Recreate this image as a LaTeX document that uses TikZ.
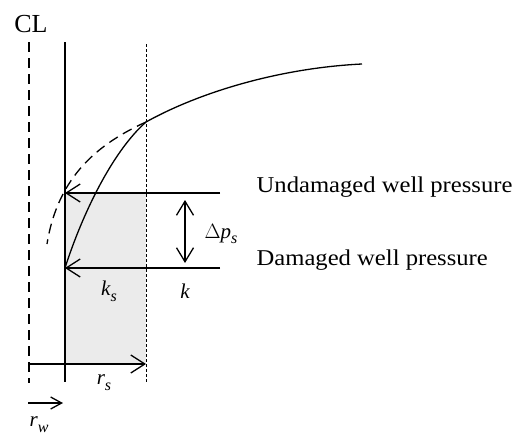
\documentclass[tikz,border=0pt]{standalone}
\usepackage{fontspec}
\setmainfont{Liberation Serif}
\newfontfamily\lblfont[FakeStretch=1.09]{Liberation Serif}
\usetikzlibrary{arrows.meta}
\newcommand\mvar[2]{{\itshape #1}\raisebox{-0.28em}{\fontsize{16}{16}\selectfont\itshape #2}}
\begin{document}
\begin{tikzpicture}[x=1pt,y=-1pt,line width=1.3pt,
  barb/.style={-{Straight Barb[length=14pt,width=18pt,line width=1.3pt]}},
  dbarb/.style={{Straight Barb[length=14pt,width=17pt,line width=1.3pt]}-{Straight Barb[length=14pt,width=17pt,line width=1.3pt]}},
  smallbarb/.style={-{Straight Barb[length=11pt,width=12pt,line width=1.3pt]}},
  cldash/.style={dash pattern=on 10pt off 6pt},
  rsdot/.style={line width=1pt,dash pattern=on 3pt off 2pt},
  txt/.style={inner sep=0pt,font=\lblfont\fontsize{22.6}{24}\selectfont},
  mlab/.style={inner sep=0pt,font=\fontsize{21}{22}\selectfont}]
\useasboundingbox (0,0) rectangle (517,439);
\fill[white] (0,0) rectangle (517,439);
% coordinates
\coordinate (clT) at (29,42);
\coordinate (clB) at (29,383);
\coordinate (wT) at (65,42);
\coordinate (wB) at (65,382);
\coordinate (rsT) at (146,44);
\coordinate (rsB) at (146,382);
\coordinate (uTip) at (65,193);
\coordinate (uEnd) at (220,193);
\coordinate (dTip) at (65,268);
\coordinate (dEnd) at (220,268);
\coordinate (meet) at (146,122);
\coordinate (farEnd) at (362,64);
\coordinate (dashEnd) at (47,244);
\coordinate (dpT) at (185,200);
\coordinate (dpB) at (185,263);
\coordinate (rsL) at (29,364);
\coordinate (rsR) at (146,364);
\coordinate (rwL) at (28,403);
\coordinate (rwR) at (63,403);
% shaded skin zone
\fill[black!8] (65,193) rectangle (146,364);
% vertical lines
\draw[cldash] (clT) -- (clB);
\draw (wT) -- (wB);
\draw[rsdot] (rsT) -- (rsB);
% pressure curves
\draw (dTip) .. controls (82,215) and (112,152) .. (meet);
\draw (meet) .. controls (200,92) and (280,68) .. (farEnd);
\draw[cldash] (meet) .. controls (100,143) and (58,175) .. (dashEnd);
% pressure arrows
\draw[barb] (uEnd) -- (uTip);
\draw[barb] (dEnd) -- (dTip);
\draw[dbarb] (dpT) -- (dpB);
% radius arrows
\draw[barb] (rsL) -- (rsR);
\draw[smallbarb] (rwL) -- (rwR);
% labels
\node[font=\fontsize{26}{28}\selectfont,inner sep=0pt] (CL) at (31,24) {CL};
\node[txt,anchor=base west] (und) at (256,192) {Undamaged well pressure};
\node[txt,anchor=base west] (dam) at (256,265) {Damaged well pressure};
\node[mlab] (dp) at (221,234) {$\Delta$\mvar{p}{s}};
\node[mlab] (ks) at (109,291) {\mvar{k}{s}};
\node[mlab] (k) at (185,291) {\itshape k};
\node[mlab] (rs) at (104,383) {\mvar{r}{s}};
\node[mlab] (rw) at (39,425) {\mvar{r}{w}};
\end{tikzpicture}
\end{document}
